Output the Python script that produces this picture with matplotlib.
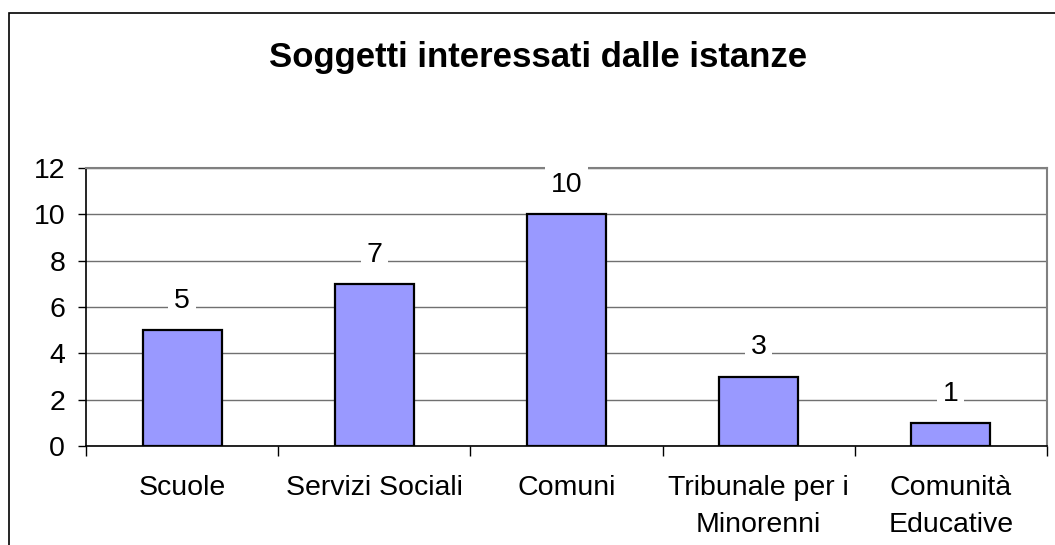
import matplotlib
matplotlib.use('Agg')
import matplotlib.pyplot as plt
from matplotlib.patches import Rectangle

categories = ['Scuole', 'Servizi Sociali', 'Comuni', 'Tribunale per i\nMinorenni', 'Comunità\nEducative']
values = [5, 7, 10, 3, 1]
title = 'Soggetti interessati dalle istanze'

plt.rcParams['font.family'] = ['Liberation Sans', 'DejaVu Sans']

fig = plt.figure(figsize=(10.55, 5.45), dpi=100)

# outer chart frame (cut off on the right and bottom, like the source)
fig.patches.append(Rectangle((8.5 / 1055, -0.1), 1.2, 1 - 13 / 545 + 0.1,
                             transform=fig.transFigure, fill=False,
                             edgecolor='black', lw=1.2))

ax = fig.add_axes([86 / 1055, 1 - 446 / 545, (1047 - 86) / 1055, (446 - 168) / 545])

x = range(len(categories))
ax.bar(x, values, width=0.41, color='#9999FF', edgecolor='black', linewidth=1.6, zorder=2)

for xi, v in zip(x, values):
    ax.annotate(str(v), (xi, v), xytext=(0, 21), textcoords='offset points',
                ha='center', va='center', fontsize=20.5, zorder=5,
                bbox=dict(facecolor='white', edgecolor='none', pad=4))

ax.set_xlim(-0.5, len(categories) - 0.5)
ax.set_ylim(0, 12)
ax.set_yticks(range(0, 13, 2))
ax.yaxis.grid(True, color='#707070', lw=1)
ax.set_axisbelow(True)

ax.set_xticks(list(x))
ax.set_xticklabels(categories, fontsize=20.5, linespacing=1.55)
ax.set_xticks([i - 0.5 for i in range(len(categories) + 1)], minor=True)
ax.tick_params(axis='x', which='major', length=0, pad=21)
ax.tick_params(axis='x', which='minor', length=7, width=1, direction='out')
ax.tick_params(axis='y', labelsize=20.5, length=6, width=1, pad=9)

for s in ['top', 'right']:
    ax.spines[s].set_color('#808080')
    ax.spines[s].set_linewidth(1.5)
for s in ['left', 'bottom']:
    ax.spines[s].set_color('black')
    ax.spines[s].set_linewidth(1.2)

fig.text(0.51, 1 - 67 / 545, title, ha='center', va='baseline',
         fontsize=25, fontweight='bold')

fig.savefig('out.png', dpi=100)
